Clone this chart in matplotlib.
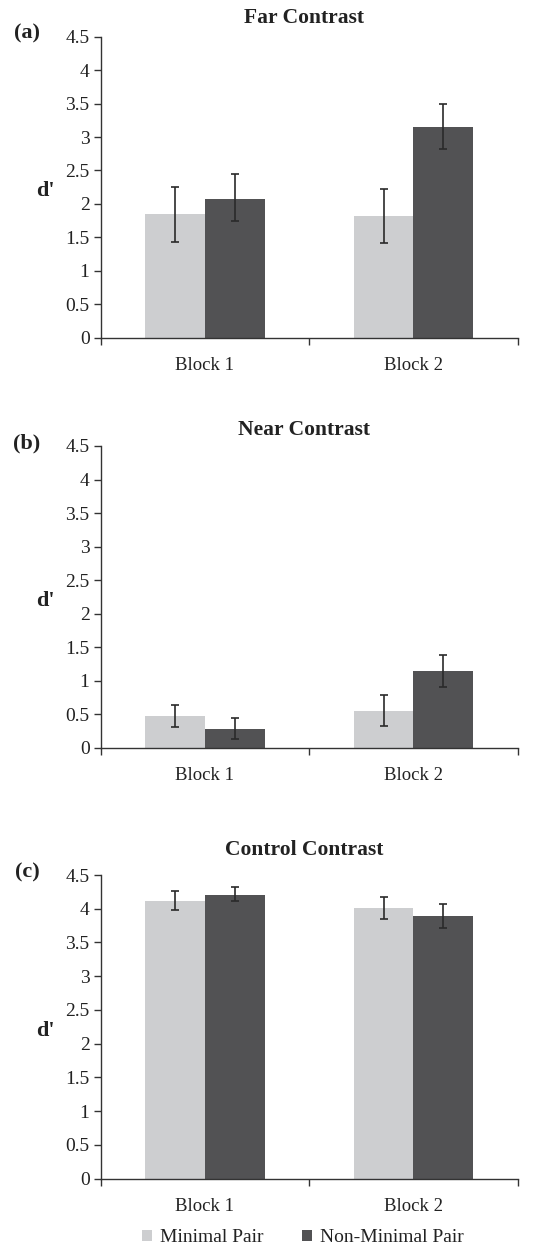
import matplotlib
matplotlib.use("Agg")
import matplotlib.pyplot as plt
from matplotlib.patches import Patch
from matplotlib.ticker import FixedLocator
import numpy as np

plt.rcParams['font.family'] = ['Liberation Serif', 'DejaVu Serif']

categories = ["Block 1", "Block 2"]
series_names = ["Minimal Pair", "Non-Minimal Pair"]
panel_titles = ["Far Contrast", "Near Contrast", "Control Contrast"]
panel_letters = ["(a)", "(b)", "(c)"]
yticks = [0, 0.5, 1, 1.5, 2, 2.5, 3, 3.5, 4, 4.5]
ytick_labels = ["0", "0.5", "1", "1.5", "2", "2.5", "3", "3.5", "4", "4.5"]

# values [minimal, non-minimal] per block
far_minimal = [1.845, 1.82]
far_nonminimal = [2.08, 3.15]
far_minimal_lo = [1.435, 1.42]
far_minimal_hi = [2.26, 2.23]
far_nonminimal_lo = [1.75, 2.82]
far_nonminimal_hi = [2.44, 3.49]

near_minimal = [0.473, 0.552]
near_nonminimal = [0.279, 1.144]
near_minimal_lo = [0.313, 0.328]
near_minimal_hi = [0.637, 0.78]
near_nonminimal_lo = [0.125, 0.905]
near_nonminimal_hi = [0.438, 1.39]

ctrl_minimal = [4.115, 4.007]
ctrl_nonminimal = [4.21, 3.89]
ctrl_minimal_lo = [3.98, 3.85]
ctrl_minimal_hi = [4.26, 4.17]
ctrl_nonminimal_lo = [4.11, 3.715]
ctrl_nonminimal_hi = [4.32, 4.075]

panels = [
    (far_minimal, far_nonminimal, far_minimal_lo, far_minimal_hi, far_nonminimal_lo, far_nonminimal_hi),
    (near_minimal, near_nonminimal, near_minimal_lo, near_minimal_hi, near_nonminimal_lo, near_nonminimal_hi),
    (ctrl_minimal, ctrl_nonminimal, ctrl_minimal_lo, ctrl_minimal_hi, ctrl_nonminimal_lo, ctrl_nonminimal_hi),
]

light = "#cdced0"
dark = "#525254"
axis_color = "#333333"
text_color = "#222222"

W, H = 547, 1247
fig = plt.figure(figsize=(W / 100, H / 100), dpi=100)

# axes pixel boxes: (left, top, right, bottom)
boxes = [(100.7, 36.7, 517.7, 337.7), (100.7, 446, 517.7, 747.7), (100.7, 875, 517.7, 1178.7)]
title_y = [18, 430, 850]

bw = 1 / 3.5
x = np.arange(len(categories))

for i, (box, data) in enumerate(zip(boxes, panels)):
    l, t, r, b = box
    ax = fig.add_axes([l / W, 1 - b / H, (r - l) / W, (b - t) / H])
    mp, nmp, mlo, mhi, nlo, nhi = data
    mp = np.array(mp); nmp = np.array(nmp)
    merr = np.array([mp - np.array(mlo), np.array(mhi) - mp])
    nerr = np.array([nmp - np.array(nlo), np.array(nhi) - nmp])
    ax.bar(x - bw / 2, mp, bw, color=light, zorder=2)
    ax.bar(x + bw / 2, nmp, bw, color=dark, zorder=2)
    ax.errorbar(x - bw / 2, mp, yerr=merr, fmt='none', ecolor='#2a2a2a', elinewidth=1.2, capsize=3, capthick=1.2, zorder=3)
    ax.errorbar(x + bw / 2, nmp, yerr=nerr, fmt='none', ecolor='#2a2a2a', elinewidth=1.2, capsize=3, capthick=1.2, zorder=3)
    ax.set_xlim(-0.5, 1.5)
    ax.set_ylim(0, 4.5)
    ax.set_yticks(yticks)
    ax.set_yticklabels(ytick_labels, fontsize=14, color=text_color)
    ax.set_xticks(x)
    ax.set_xticklabels(categories, fontsize=13.5, color=text_color)
    ax.xaxis.set_minor_locator(FixedLocator([-0.5, 0.5, 1.5]))
    ax.tick_params(axis='x', which='major', length=0, pad=14)
    ax.tick_params(axis='x', which='minor', length=5, width=1, color=axis_color, direction='out')
    ax.tick_params(axis='y', length=5, width=1, color=axis_color, direction='out', pad=3)
    for s in ['top', 'right']:
        ax.spines[s].set_visible(False)
    for s in ['left', 'bottom']:
        ax.spines[s].set_color(axis_color)
        ax.spines[s].set_linewidth(1)
    ax.spines['bottom'].set_zorder(4)
    fig.text(((l + r) / 2 - 5) / W, 1 - title_y[i] / H, panel_titles[i], ha='center', va='center',
             fontsize=15.5, fontweight='bold', color=text_color)
    fig.text(27 / W, 1 - (t - 3) / H, panel_letters[i], ha='center', va='center',
             fontsize=16, fontweight='bold', color=text_color)
    fig.text(45 / W, 1 - ((t + b) / 2 + 4) / H, "d'", ha='center', va='center',
             fontsize=16, fontweight='bold', color=text_color)

handles = [Patch(facecolor=light, edgecolor='none'), Patch(facecolor=dark, edgecolor='none')]
fig.legend(handles, series_names, loc='center', bbox_to_anchor=(303 / W, 1 - 1238 / H), ncol=2,
           frameon=False, fontsize=14, handlelength=0.5, handleheight=0.5, handletextpad=0.4,
           columnspacing=2.0, labelcolor=text_color)

fig.savefig("out.png", dpi=100)
